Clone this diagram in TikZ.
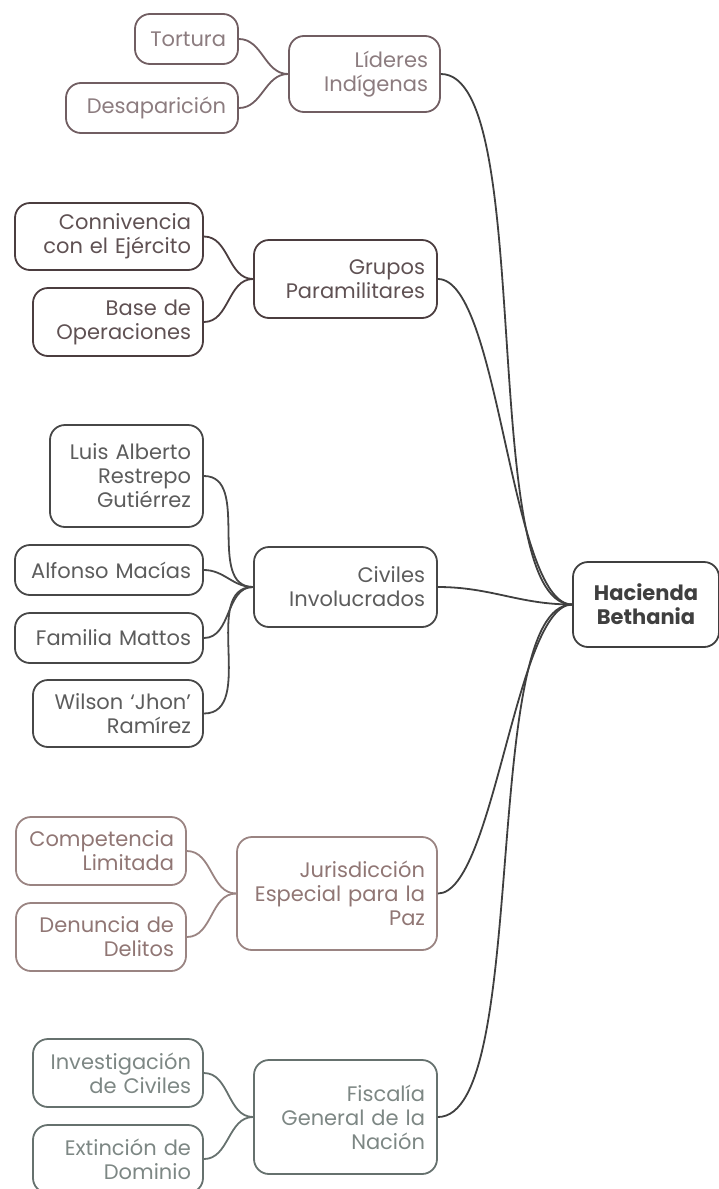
\documentclass[tikz,border=0pt]{standalone}
\usepackage{fontspec}
\setmainfont{Poppins}
\definecolor{colLid}{HTML}{715E62}
\definecolor{txtLid}{HTML}{8C7C7F}
\definecolor{colGru}{HTML}{4B3D3F}
\definecolor{txtGru}{HTML}{5F5153}
\definecolor{colCiv}{HTML}{474747}
\definecolor{txtCiv}{HTML}{5C5C5C}
\definecolor{colJur}{HTML}{9A8482}
\definecolor{txtJur}{HTML}{907674}
\definecolor{colFis}{HTML}{66716E}
\definecolor{txtFis}{HTML}{7D8784}
\definecolor{colHac}{HTML}{3F3F3F}

\begin{document}
\begin{tikzpicture}[x=1pt, y=-1pt]
\tikzset{caja/.style={draw, rounded corners=15pt, line width=1.8pt, align=right, inner xsep=12pt, inner ysep=0pt, font=\fontsize{21}{24}\selectfont}}
\tikzset{rama/.style={line width=1.8pt, out=0, in=180}}
\tikzset{tronco/.style={rama, colHac, looseness=0.45}}
\useasboundingbox (0,0) rectangle (719,1189);
% centro
\node[caja, draw=colHac, text=colHac, font=\fontsize{21}{24}\selectfont\bfseries, align=center, minimum width=146pt, minimum height=85pt] (H) at (646,604.5) {Hacienda\\Bethania};
% Lideres Indigenas
\node[caja, draw=colLid, text=txtLid, text width=127pt, minimum height=76pt] (L) at (364.5,74) {Líderes\\Indígenas};
\node[caja, draw=colLid, text=txtLid, text width=79pt, minimum height=50pt] (L1) at (186.5,39) {Tortura};
\node[caja, draw=colLid, text=txtLid, text width=148pt, minimum height=50pt] (L2) at (152,108) {Desaparición};
% Grupos Paramilitares
\node[caja, draw=colGru, text=txtGru, text width=159pt, minimum height=78pt] (G) at (345.5,279) {Grupos\\Paramilitares};
\node[caja, draw=colGru, text=txtGru, text width=164pt, minimum height=67pt] (G1) at (109,236.5) {Connivencia\\con el Ejército};
\node[caja, draw=colGru, text=txtGru, text width=146pt, minimum height=68pt] (G2) at (118,322) {Base de\\Operaciones};
% Civiles Involucrados
\node[caja, draw=colCiv, text=txtCiv, text width=159pt, minimum height=80pt] (C) at (345.5,587) {Civiles\\Involucrados};
\node[caja, draw=colCiv, text=txtCiv, text width=129pt, minimum height=102pt] (C1) at (126.5,476) {Luis Alberto\\Restrepo\\Gutiérrez};
\node[caja, draw=colCiv, text=txtCiv, text width=164pt, minimum height=50pt] (C2) at (109,570) {Alfonso Macías};
\node[caja, draw=colCiv, text=txtCiv, text width=164pt, minimum height=50pt] (C3) at (109,638) {Familia Mattos};
\node[caja, draw=colCiv, text=txtCiv, text width=146pt, minimum height=67pt] (C4) at (118,713.5) {Wilson ‘Jhon’\\Ramírez};
% Jurisdiccion Especial para la Paz
\node[caja, draw=colJur, text=txtJur, text width=176pt, minimum height=113pt] (J) at (337,893.5) {Jurisdicción\\Especial para la\\Paz};
\node[caja, draw=colJur, text=txtJur, text width=146pt, minimum height=68pt] (J1) at (101,851) {Competencia\\Limitada};
\node[caja, draw=colJur, text=txtJur, text width=146pt, minimum height=68pt] (J2) at (101,937) {Denuncia de\\Delitos};
% Fiscalia General de la Nacion
\node[caja, draw=colFis, text=txtFis, text width=159pt, minimum height=114pt] (F) at (345.5,1117) {Fiscalía\\General de la\\Nación};
\node[caja, draw=colFis, text=txtFis, text width=146pt, minimum height=68pt] (F1) at (118,1073) {Investigación\\de Civiles};
\node[caja, draw=colFis, text=txtFis, text width=146pt, minimum height=68pt] (F2) at (118,1159) {Extinción de\\Dominio};
% conexiones
\draw[rama, colLid] (L1.east) to (L.west);
\draw[rama, colLid] (L2.east) to (L.west);
\draw[rama, colGru] (G1.east) to (G.west);
\draw[rama, colGru] (G2.east) to (G.west);
\draw[rama, colCiv] (C1.east) to (C.west);
\draw[rama, colCiv] (C2.east) to (C.west);
\draw[rama, colCiv] (C3.east) to (C.west);
\draw[rama, colCiv] (C4.east) to (C.west);
\draw[rama, colJur] (J1.east) to (J.west);
\draw[rama, colJur] (J2.east) to (J.west);
\draw[rama, colFis] (F1.east) to (F.west);
\draw[rama, colFis] (F2.east) to (F.west);
\draw[tronco] (L.east) to (H.west);
\draw[tronco] (G.east) to (H.west);
\draw[tronco, looseness=1] (C.east) to (H.west);
\draw[tronco] (J.east) to (H.west);
\draw[tronco] (F.east) to (H.west);
\end{tikzpicture}
\end{document}
